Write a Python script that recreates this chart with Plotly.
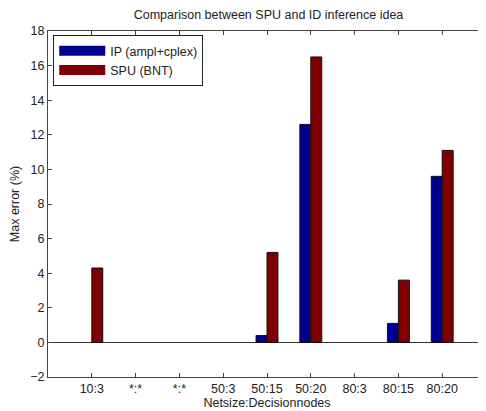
import plotly.graph_objects as go

categories = ["10:3", "*:*", "*:*", "50:3", "50:15", "50:20", "80:3", "80:15", "80:20"]
ip_values = [None, None, None, None, 0.4, 12.6, None, 1.1, 9.6]
spu_values = [4.3, None, None, None, 5.2, 16.5, None, 3.6, 11.1]
y_ticks = [-2, 0, 2, 4, 6, 8, 10, 12, 14, 16, 18]

positions = list(range(1, len(categories) + 1))
BLUE = "#00008F"
RED = "#800000"
FONT = "Liberation Sans, Arial, sans-serif"

fig = go.Figure()
fig.add_trace(go.Bar(x=positions, y=ip_values, name="IP (ampl+cplex)", marker=dict(color=BLUE, line=dict(color="#111", width=1)), showlegend=False))
fig.add_trace(go.Bar(x=positions, y=spu_values, name="SPU (BNT)", marker=dict(color=RED, line=dict(color="#111", width=1)), showlegend=False))
# legend entries
fig.add_trace(go.Scatter(x=[None], y=[None], mode="lines", name="IP (ampl+cplex)", line=dict(color=BLUE, width=14)))
fig.add_trace(go.Scatter(x=[None], y=[None], mode="lines", name="SPU (BNT)", line=dict(color=RED, width=14)))

# page body has an 8px margin, so the figure is 8px smaller than the window
fig.update_layout(
    width=478, height=403,
    margin=dict(l=40, r=0, t=23, b=34),
    paper_bgcolor="white", plot_bgcolor="white",
    barmode="group", bargap=0.5, bargroupgap=0,
    font=dict(family=FONT, size=12.5, color="#222"),
    title=dict(text="Comparison between SPU and ID inference idea", x=0.545, xanchor="center",
               y=0.984, yanchor="middle", font=dict(size=12.5)),
    legend=dict(x=0.012, y=0.988, xanchor="left", yanchor="top", bordercolor="#222", borderwidth=1, bgcolor="white",
                font=dict(size=12.5), itemwidth=46, tracegroupgap=0),
)
fig.update_xaxes(
    range=[0, 10], tickvals=positions, ticktext=categories,
    showline=True, mirror="ticks", linecolor="#444", linewidth=1,
    ticks="inside", ticklen=4, tickcolor="#444", showgrid=False, zeroline=False,
    title=dict(text="Netsize:Decisionnodes", standoff=3, font=dict(size=12.5)),
)
fig.update_yaxes(
    range=[-2, 18], tickvals=y_ticks,
    showline=True, mirror="ticks", linecolor="#444", linewidth=1,
    ticks="inside", ticklen=4, tickcolor="#444", showgrid=False,
    zeroline=True, zerolinecolor="#333", zerolinewidth=1,
    title=dict(text="Max error (%)", standoff=8, font=dict(size=12.5)),
)
fig.write_html("out.html")
